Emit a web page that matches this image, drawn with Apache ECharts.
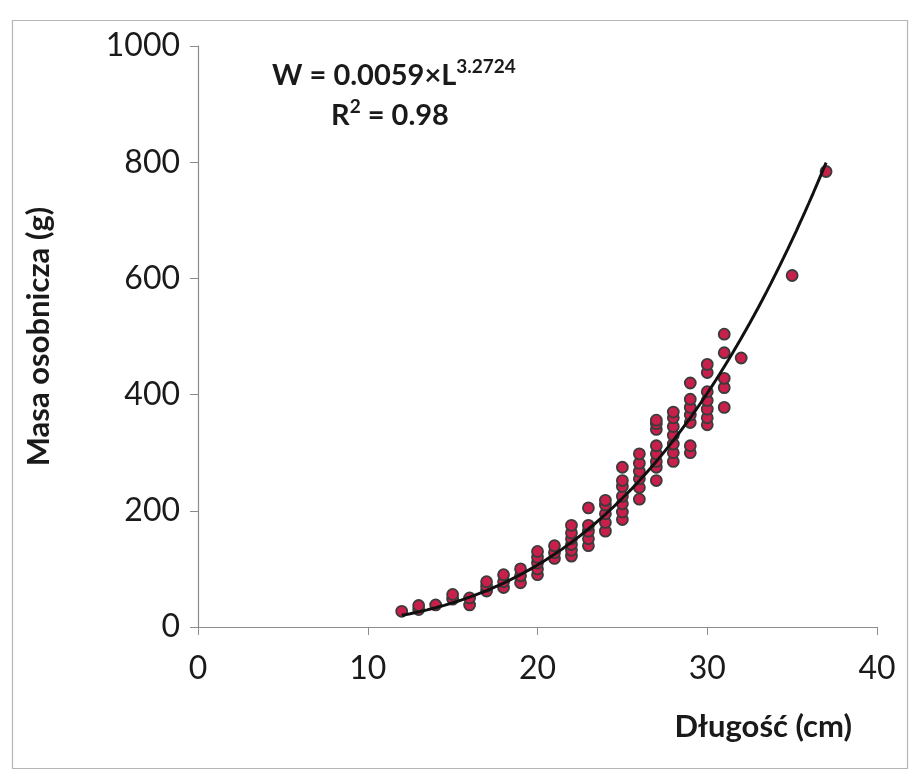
<!DOCTYPE html>
<html>
<head>
<meta charset="utf-8">
<script src="https://cdn.jsdelivr.net/npm/echarts@6/dist/echarts.min.js"></script>
<style>
html,body{margin:0;padding:0;background:#fff;}
#chart{width:916px;height:771px;}
</style>
</head>
<body>
<div id="chart"></div>
<script>
// Observed fish: length (cm) and mass (g)
const lengthCm = [
  12,
  13, 13,
  14,
  15, 15,
  16, 16,
  17, 17, 17,
  18, 18, 18,
  19, 19, 19,
  20, 20, 20, 20, 20,
  21, 21, 21,
  22, 22, 22, 22, 22, 22,
  23, 23, 23, 23, 23,
  24, 24, 24, 24, 24,
  25, 25, 25, 25, 25, 25, 25,
  26, 26, 26, 26, 26, 26,
  27, 27, 27, 27, 27, 27, 27, 27,
  28, 28, 28, 28, 28, 28, 28,
  29, 29, 29, 29, 29, 29, 29,
  30, 30, 30, 30, 30, 30, 30,
  31, 31, 31, 31, 31,
  32,
  35,
  37
];
const massG = [
  27,
  30, 37,
  38,
  48, 56,
  38, 50,
  62, 70, 78,
  68, 78, 90,
  76, 88, 100,
  90, 100, 110, 120, 130,
  118, 128, 140,
  122, 132, 142, 152, 162, 175,
  140, 152, 165, 175, 205,
  165, 180, 195, 210, 218,
  185, 198, 212, 225, 242, 252, 275,
  220, 240, 255, 268, 282, 298,
  252, 275, 285, 298, 312, 340, 350, 356,
  285, 300, 315, 330, 345, 360, 370,
  300, 312, 352, 365, 378, 392, 420,
  348, 360, 375, 390, 405, 438, 452,
  378, 412, 428, 472, 504,
  463,
  605,
  784
];
// Trend line W = a * L^b, as printed on the chart
const fitA = 0.0059;
const fitB = 3.2724;
const fitRange = [12, 37];
const xTicks = [0, 10, 20, 30, 40];
const yTicks = [0, 200, 400, 600, 800, 1000];

const scatterData = lengthCm.map((l, i) => [l, massG[i]]);
const fitData = [];
for (let l = fitRange[0]; l <= fitRange[1] + 1e-9; l += 0.25) {
  fitData.push([l, fitA * Math.pow(l, fitB)]);
}

const FONT = 'Lato';
const chart = echarts.init(document.getElementById('chart'), null, {renderer: 'canvas'});
chart.setOption({
  backgroundColor: '#fff',
  animation: false,
  grid: {left: 198, right: 39, top: 46, bottom: 144, containLabel: false},
  xAxis: {
    type: 'value', min: xTicks[0], max: xTicks[xTicks.length - 1], interval: 10,
    name: 'Długość (cm)', nameLocation: 'end',
    nameTextStyle: {fontFamily: FONT, fontWeight: 'bold', fontSize: 31, color: '#1a1a1a',
      align: 'right', verticalAlign: 'top', padding: [84, 25, 0, 0]},
    nameGap: 0,
    axisLine: {lineStyle: {color: '#8c8c8c', width: 1.2}},
    axisTick: {show: true, inside: false, length: 8, lineStyle: {color: '#8c8c8c'}},
    axisLabel: {fontFamily: FONT, fontSize: 32, color: '#1a1a1a', margin: 26,
      formatter: v => String(v)},
    splitLine: {show: false}
  },
  yAxis: {
    type: 'value', min: yTicks[0], max: yTicks[yTicks.length - 1], interval: 200,
    name: 'Masa osobnicza (g)', nameLocation: 'middle', nameGap: 144,
    nameTextStyle: {fontFamily: FONT, fontWeight: 'bold', fontSize: 31, color: '#1a1a1a'},
    axisLine: {show: true, lineStyle: {color: '#8c8c8c', width: 1.2}},
    axisTick: {show: true, inside: false, length: 8, lineStyle: {color: '#8c8c8c'}},
    axisLabel: {fontFamily: FONT, fontSize: 32, color: '#1a1a1a', margin: 18,
      formatter: v => String(v)},
    splitLine: {show: false}
  },
  series: [
    {
      type: 'scatter', data: scatterData, symbol: 'circle', symbolSize: 11,
      itemStyle: {color: '#c8204a', borderColor: '#3b3b3b', borderWidth: 1.8, opacity: 1},
      z: 2
    },
    {
      type: 'line', data: fitData, showSymbol: false, smooth: false,
      lineStyle: {color: '#111', width: 3}, z: 3, silent: true
    }
  ],
  graphic: [
    {type: 'rect', left: 10, top: 18, shape: {width: 895, height: 748},
      style: {fill: 'none', stroke: '#b5b5b5', lineWidth: 1.2}, silent: true, z: -1},
    {type: 'text', left: 272, top: 57,
      style: {
        text: '{b|W = 0.0059×L}{s|3.2724}',
        rich: {
          b: {fontFamily: FONT, fontWeight: 'bold', fontSize: 29, fill: '#1a1a1a', verticalAlign: 'bottom'},
          s: {fontFamily: FONT, fontWeight: 'bold', fontSize: 19, fill: '#1a1a1a', verticalAlign: 'top', padding: [0,0,14,0]}
        }
      }},
    {type: 'text', left: 331, top: 97,
      style: {
        text: '{b|R}{s|2}{b| = 0.98}',
        rich: {
          b: {fontFamily: FONT, fontWeight: 'bold', fontSize: 29, fill: '#1a1a1a', verticalAlign: 'bottom'},
          s: {fontFamily: FONT, fontWeight: 'bold', fontSize: 19, fill: '#1a1a1a', verticalAlign: 'top', padding: [0,0,14,0]}
        }
      }}
  ]
});
</script>
</body>
</html>
